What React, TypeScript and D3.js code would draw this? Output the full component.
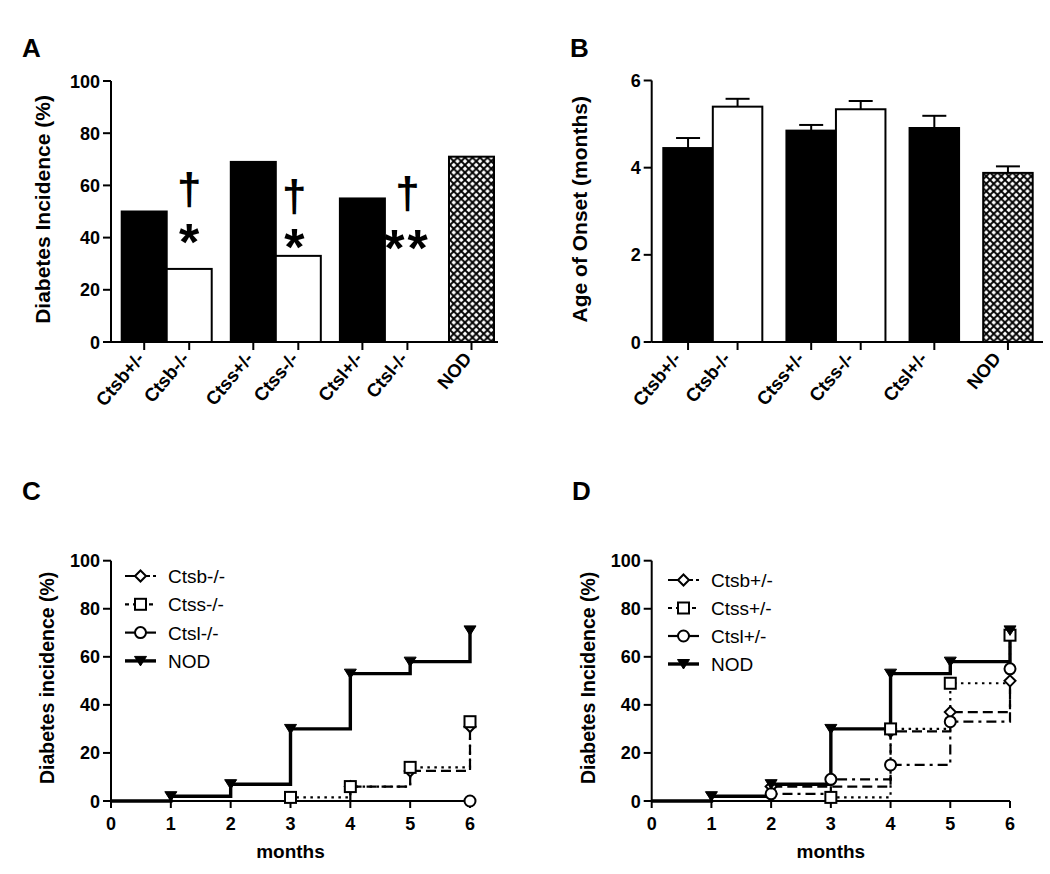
import React from "react";
import * as d3 from "d3";

const FONT = "'Liberation Sans', Arial, Helvetica, sans-serif";

// ---------- Panel A data ----------
const categoriesA = ["Ctsb+/-", "Ctsb-/-", "Ctss+/-", "Ctss-/-", "Ctsl+/-", "Ctsl-/-", "NOD"];
const incidenceA = [50, 28, 69, 33, 55, 0, 71];
const groupA = [0, 0, 1, 1, 2, 2, 3];
const fillKindA = ["solid", "open", "solid", "open", "solid", "open", "hatch"];
const annotCatsA = ["Ctsb-/-", "Ctss-/-", "Ctsl-/-"];
const annotDaggerValA = [58, 55.2, 56.5];
const annotStarsA = ["*", "*", "**"];
const annotStarValA = [41.8, 40, 39.5];
const pctTicks = [0, 20, 40, 60, 80, 100];

// ---------- Panel B data ----------
const categoriesB = ["Ctsb+/-", "Ctsb-/-", "Ctss+/-", "Ctss-/-", "Ctsl+/-", "NOD"];
const onsetB = [4.45, 5.4, 4.85, 5.34, 4.91, 3.88];
const onsetErrB = [0.23, 0.18, 0.13, 0.19, 0.28, 0.15];
const groupB = [0, 0, 1, 1, 2, 3];
const fillKindB = ["solid", "open", "solid", "open", "solid", "hatch"];
const onsetTicks = [0, 2, 4, 6];

// ---------- Panel C / D data ----------
const monthTicks = [0, 1, 2, 3, 4, 5, 6];

const nodMonths = [1, 2, 3, 4, 5, 6];
const nodIncidence = [2, 7, 30, 53, 58, 71];

const ctsbKoMonths = [4, 5, 6];
const ctsbKoIncidence = [6, 12.5, 31];
const ctssKoMonths = [3, 4, 5, 6];
const ctssKoIncidence = [1.5, 6, 14, 33];
const ctslKoMonths = [6];
const ctslKoIncidence = [0];

const ctsbHetMonths = [2, 4, 5, 6];
const ctsbHetIncidence = [6, 29, 37, 50];
const ctssHetMonths = [3, 4, 5, 6];
const ctssHetIncidence = [1.5, 30, 49, 69];
const ctslHetMonths = [2, 3, 4, 5, 6];
const ctslHetIncidence = [3, 9, 15, 33, 55];

const legendC = ["Ctsb-/-", "Ctss-/-", "Ctsl-/-", "NOD"];
const legendD = ["Ctsb+/-", "Ctss+/-", "Ctsl+/-", "NOD"];

type Series = { name: string; months: number[]; values: number[]; marker: string; dash: string; width: number };

const seriesC: Series[] = [
  { name: legendC[0], months: ctsbKoMonths, values: ctsbKoIncidence, marker: "diamond", dash: "10,5", width: 2.2 },
  { name: legendC[1], months: ctssKoMonths, values: ctssKoIncidence, marker: "square", dash: "2.5,4.5", width: 2.2 },
  { name: legendC[2], months: ctslKoMonths, values: ctslKoIncidence, marker: "circle", dash: "10,5,3,5", width: 2.2 },
  { name: legendC[3], months: nodMonths, values: nodIncidence, marker: "triangle", dash: "", width: 3.4 },
];
const seriesD: Series[] = [
  { name: legendD[0], months: ctsbHetMonths, values: ctsbHetIncidence, marker: "diamond", dash: "10,5", width: 2.2 },
  { name: legendD[1], months: ctssHetMonths, values: ctssHetIncidence, marker: "square", dash: "2.5,4.5", width: 2.2 },
  { name: legendD[2], months: ctslHetMonths, values: ctslHetIncidence, marker: "circle", dash: "10,5,3,5", width: 2.2 },
  { name: legendD[3], months: nodMonths, values: nodIncidence, marker: "triangle", dash: "", width: 3.4 },
];

function Marker({ kind, x, y }: { kind: string; x: number; y: number }) {
  const t = `translate(${x},${y})`;
  if (kind === "diamond")
    return <path transform={t} d="M0,-5.5L5.5,0L0,5.5L-5.5,0Z" fill="white" stroke="black" strokeWidth={2} />;
  if (kind === "square")
    return <rect transform={t} x={-5.5} y={-5.5} width={11} height={11} fill="white" stroke="black" strokeWidth={2} />;
  if (kind === "circle") return <circle transform={t} r={5.5} fill="white" stroke="black" strokeWidth={2} />;
  return <path transform={t} d="M-6,-4.5L6,-4.5L0,5Z" fill="black" stroke="black" strokeWidth={1} />;
}

type BarProps = {
  cats: string[];
  values: number[];
  errs?: number[];
  groups: number[];
  kinds: string[];
  yDomain: [number, number];
  yTop: number;
  yBottom: number;
  ticks: number[];
  axisX: number;
  axisEnd: number;
  barStart: number;
  barEnd: number;
  gapRatio: number;
  labelDx: number;
  yLabel: string;
  yLabelX: number;
  letter: string;
  letterX: number;
};

function BarPanel(p: BarProps) {
  const y = d3.scaleLinear().domain(p.yDomain).range([p.yBottom, p.yTop]);
  const nG = d3.max(p.groups)!;
  const units = p.cats.map((_, i) => i + p.groups[i] * p.gapRatio);
  const x = d3.scaleLinear().domain([0, p.cats.length + nG * p.gapRatio]).range([p.barStart, p.barEnd]);
  const bw = x(1) - x(0);
  return (
    <g>
      <text x={p.letterX} y={57} fontFamily={FONT} fontWeight="bold" fontSize={26}>{p.letter}</text>
      {p.cats.map((c, i) => {
        const x0 = x(units[i]);
        const k = p.kinds[i];
        return (
          <g key={c}>
            {p.errs && (
              <g stroke="black" strokeWidth={2}>
                <line x1={x0 + bw / 2} x2={x0 + bw / 2} y1={y(p.values[i])} y2={y(p.values[i] + p.errs[i])} />
                <line x1={x0 + bw / 2 - 12} x2={x0 + bw / 2 + 12} y1={y(p.values[i] + p.errs[i])} y2={y(p.values[i] + p.errs[i])} />
              </g>
            )}
            {p.values[i] > 0 && (
              <rect
                x={x0}
                y={y(p.values[i])}
                width={bw}
                height={y(0) - y(p.values[i])}
                fill={k === "solid" ? "black" : k === "open" ? "white" : "url(#xhatch)"}
                stroke="black"
                strokeWidth={2}
              />
            )}
          </g>
        );
      })}
      <line x1={p.axisX} x2={p.axisX} y1={p.yBottom} y2={p.yTop} stroke="black" strokeWidth={2} />
      <line x1={p.axisX} x2={p.axisEnd} y1={p.yBottom} y2={p.yBottom} stroke="black" strokeWidth={2} />
      {p.ticks.map((t) => (
        <g key={t}>
          <line x1={p.axisX - 8} x2={p.axisX} y1={y(t)} y2={y(t)} stroke="black" strokeWidth={2} />
          <text x={p.axisX - 11} y={y(t) + 6.5} textAnchor="end" fontFamily={FONT} fontWeight="bold" fontSize={18}>
            {t}
          </text>
        </g>
      ))}
      {p.cats.map((c, i) => {
        const cx = x(units[i]) + bw / 2;
        return (
          <g key={"t" + c}>
            <line x1={cx} x2={cx} y1={p.yBottom} y2={p.yBottom + 8} stroke="black" strokeWidth={2} />
            <text
              transform={`translate(${cx + p.labelDx},${p.yBottom + 17}) rotate(-50)`}
              textAnchor="end"
              fontFamily={FONT}
              fontWeight="bold"
              fontSize={18.5}
            >
              {c}
            </text>
          </g>
        );
      })}
      <text
        transform={`translate(${p.yLabelX},${(p.yTop + p.yBottom) / 2 - 2}) rotate(-90)`}
        textAnchor="middle"
        fontFamily={FONT}
        fontWeight="bold"
        fontSize={21}
      >
        {p.yLabel}
      </text>
    </g>
  );
}

function AnnotationsA() {
  const y = d3.scaleLinear().domain([0, 100]).range([342, 81]);
  const gapRatio = 0.424;
  const nG = d3.max(groupA)!;
  const x = d3.scaleLinear().domain([0, categoriesA.length + nG * gapRatio]).range([121.7, 494]);
  const bw = x(1) - x(0);
  return (
    <g fontFamily={FONT} fontWeight="bold" textAnchor="middle">
      {annotCatsA.map((c, j) => {
        const i = categoriesA.indexOf(c);
        const cx = x(i + groupA[i] * gapRatio) + bw / 2 - (j === 1 ? 4 : 0);
        const yd = y(annotDaggerValA[j]) + 13;
        const ys = y(annotStarValA[j]) + 27;
        return (
          <g key={c}>
            <text x={cx} y={yd} fontSize={44}>†</text>
            <text x={cx} y={ys} fontSize={52} letterSpacing={j === 2 ? 3 : 0}>
              {annotStarsA[j]}
            </text>
          </g>
        );
      })}
    </g>
  );
}

type LineProps = {
  series: Series[];
  axisX: number;
  xEnd: number;
  yLabel: string;
  yLabelX: number;
  letter: string;
  letterX: number;
  legendX: number;
  legendY: number;
  legendStep: number;
};

function LinePanel(p: LineProps) {
  const yTop = 560.7;
  const yBottom = 801;
  const x = d3.scaleLinear().domain([0, 6]).range([p.axisX, p.xEnd]);
  const y = d3.scaleLinear().domain([0, 100]).range([yBottom, yTop]);
  const line = d3
    .line<[number, number]>()
    .x((d) => x(d[0]))
    .y((d) => y(d[1]))
    .curve(d3.curveStepAfter);
  return (
    <g>
      <text x={p.letterX} y={500} fontFamily={FONT} fontWeight="bold" fontSize={26}>{p.letter}</text>
      <line x1={p.axisX} x2={p.axisX} y1={yBottom} y2={yTop} stroke="black" strokeWidth={2} />
      <line x1={p.axisX} x2={p.xEnd} y1={yBottom} y2={yBottom} stroke="black" strokeWidth={2} />
      {pctTicks.map((t) => (
        <g key={t}>
          <line x1={p.axisX - 8} x2={p.axisX} y1={y(t)} y2={y(t)} stroke="black" strokeWidth={2} />
          <text x={p.axisX - 11} y={y(t) + 6.5} textAnchor="end" fontFamily={FONT} fontWeight="bold" fontSize={18}>
            {t}
          </text>
        </g>
      ))}
      {monthTicks.map((t) => (
        <g key={t}>
          <line x1={x(t)} x2={x(t)} y1={yBottom} y2={yBottom + 7} stroke="black" strokeWidth={2} />
          <text x={x(t)} y={yBottom + 29} textAnchor="middle" fontFamily={FONT} fontWeight="bold" fontSize={18}>
            {t}
          </text>
        </g>
      ))}
      <text x={(p.axisX + p.xEnd) / 2} y={858} textAnchor="middle" fontFamily={FONT} fontWeight="bold" fontSize={19}>
        months
      </text>
      <text
        transform={`translate(${p.yLabelX},${(yTop + yBottom) / 2 - 3}) rotate(-90)`}
        textAnchor="middle"
        fontFamily={FONT}
        fontWeight="bold"
        fontSize={19.5}
      >
        {p.yLabel}
      </text>
      {p.series.map((s) => {
        const pts: [number, number][] = [[0, 0], ...s.months.map((m, i) => [m, s.values[i]] as [number, number])];
        return (
          <path
            key={s.name}
            d={line(pts) || ""}
            fill="none"
            stroke="black"
            strokeWidth={s.width}
            strokeDasharray={s.dash || undefined}
          />
        );
      })}
      {p.series.map((s) =>
        s.months.map((m, i) => <Marker key={s.name + m} kind={s.marker} x={x(m)} y={y(s.values[i])} />)
      )}
      {p.series.map((s, i) => {
        const ly = p.legendY + i * p.legendStep;
        return (
          <g key={"lg" + s.name}>
            <line
              x1={p.legendX}
              x2={p.legendX + 31}
              y1={ly}
              y2={ly}
              stroke="black"
              strokeWidth={s.width}
              strokeDasharray={s.dash ? (s.marker === "square" ? "4,4" : s.marker === "diamond" ? "11,3" : "") : undefined}
            />
            <Marker kind={s.marker} x={p.legendX + 15.5} y={ly} />
            <text x={p.legendX + 43} y={ly + 7} fontFamily={FONT} fontSize={19}>
              {s.name}
            </text>
          </g>
        );
      })}
    </g>
  );
}

export default function App() {
  return (
    <svg
      width={1050}
      height={874}
      viewBox="0 0 1050 874"
      style={{ position: "absolute", left: 0, top: 0, background: "white" }}
    >
      <defs>
        <pattern id="xhatch" patternUnits="userSpaceOnUse" width={7.5} height={7.5}>
          <rect width={7.5} height={7.5} fill="white" />
          <path d="M0,0L7.5,7.5M7.5,0L0,7.5" stroke="black" strokeWidth={1.9} />
        </pattern>
      </defs>
      <rect width={1050} height={874} fill="white" />
      <BarPanel
        cats={categoriesA}
        values={incidenceA}
        groups={groupA}
        kinds={fillKindA}
        yDomain={[0, 100]}
        yTop={81}
        yBottom={342}
        ticks={pctTicks}
        axisX={111}
        axisEnd={498}
        barStart={121.7}
        barEnd={494}
        gapRatio={0.424}
        labelDx={1}
        yLabel="Diabetes Incidence (%)"
        yLabelX={50}
        letter="A"
        letterX={22}
      />
      <AnnotationsA />
      <BarPanel
        cats={categoriesB}
        values={onsetB}
        errs={onsetErrB}
        groups={groupB}
        kinds={fillKindB}
        yDomain={[0, 6]}
        yTop={80.5}
        yBottom={342}
        ticks={onsetTicks}
        axisX={651.7}
        axisEnd={1043}
        barStart={663.3}
        barEnd={1032.7}
        gapRatio={0.487}
        labelDx={-6}
        yLabel="Age of Onset (months)"
        yLabelX={587}
        letter="B"
        letterX={570}
      />
      <LinePanel
        series={seriesC}
        axisX={111}
        xEnd={470}
        yLabel="Diabetes incidence (%)"
        yLabelX={54}
        letter="C"
        letterX={22}
        legendX={125}
        legendY={576}
        legendStep={28.3}
      />
      <LinePanel
        series={seriesD}
        axisX={651.7}
        xEnd={1010}
        yLabel="Diabetes Incidence (%)"
        yLabelX={595}
        letter="D"
        letterX={572}
        legendX={668}
        legendY={580}
        legendStep={28}
      />
    </svg>
  );
}
